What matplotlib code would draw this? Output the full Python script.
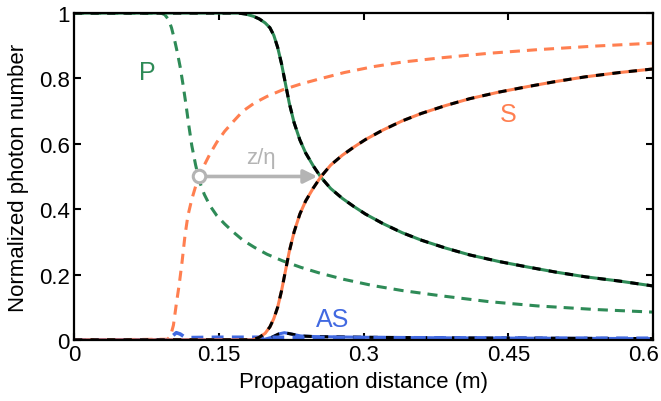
import numpy as np
import matplotlib.pyplot as plt
from matplotlib import transforms

plt.rcParams['font.family'] = ['Liberation Sans', 'DejaVu Sans']

# cores das curvas
verde = '#2e8b57'
laranja = '#ff7f50'
azul = '#4169e1'
cinza = '#b4b4b4'

# Bomba (P) - curva cheia
xp = [0, 0.17, 0.178, 0.186, 0.192, 0.198, 0.203, 0.207, 0.211, 0.215, 0.219, 0.223,
      0.228, 0.234, 0.240, 0.248, 0.256, 0.266, 0.278, 0.290, 0.302, 0.32, 0.34, 0.36,
      0.385, 0.41, 0.44, 0.47, 0.50, 0.53, 0.565, 0.60]
yp = [1, 1, 0.997, 0.99, 0.982, 0.97, 0.955, 0.932, 0.895, 0.845, 0.785, 0.725,
      0.665, 0.612, 0.572, 0.532, 0.497, 0.463, 0.433, 0.408, 0.385, 0.356, 0.328, 0.305,
      0.281, 0.26, 0.24, 0.223, 0.207, 0.193, 0.18, 0.165]

# Stokes (S) - curva cheia
xs = [0, 0.185, 0.192, 0.198, 0.203, 0.207, 0.211, 0.215, 0.219, 0.223, 0.228, 0.234,
      0.240, 0.248, 0.256, 0.266, 0.278, 0.290, 0.302, 0.32, 0.34, 0.36, 0.385, 0.41,
      0.44, 0.47, 0.50, 0.53, 0.565, 0.60]
ys = [0, 0, 0.008, 0.02, 0.04, 0.065, 0.10, 0.15, 0.21, 0.27, 0.33, 0.385,
      0.425, 0.465, 0.50, 0.535, 0.565, 0.59, 0.613, 0.642, 0.67, 0.693, 0.717, 0.738,
      0.758, 0.775, 0.791, 0.805, 0.818, 0.829]

# Bomba (P) - curva tracejada
xp2 = [0, 0.09, 0.094, 0.098, 0.101, 0.104, 0.107, 0.110, 0.113, 0.116, 0.119, 0.122,
       0.126, 0.130, 0.135, 0.141, 0.148, 0.156, 0.165, 0.175, 0.187, 0.20, 0.216, 0.235,
       0.255, 0.28, 0.31, 0.34, 0.38, 0.43, 0.48, 0.54, 0.60]
yp2 = [1, 1, 0.995, 0.98, 0.955, 0.92, 0.88, 0.835, 0.78, 0.72, 0.655, 0.595,
       0.535, 0.485, 0.445, 0.41, 0.38, 0.355, 0.33, 0.305, 0.283, 0.262, 0.242, 0.222,
       0.204, 0.185, 0.166, 0.151, 0.135, 0.117, 0.104, 0.093, 0.085]

# Stokes (S) - curva tracejada
xs2 = [0, 0.097, 0.100, 0.103, 0.106, 0.109, 0.112, 0.115, 0.118, 0.122, 0.126, 0.130,
       0.135, 0.141, 0.148, 0.156, 0.165, 0.175, 0.187, 0.20, 0.216, 0.235, 0.255, 0.28,
       0.31, 0.34, 0.38, 0.43, 0.48, 0.54, 0.60]
ys2 = [0, 0.002, 0.012, 0.045, 0.11, 0.17, 0.24, 0.32, 0.38, 0.43, 0.47, 0.50,
       0.535, 0.57, 0.605, 0.638, 0.668, 0.70, 0.725, 0.745, 0.765, 0.783, 0.799, 0.818,
       0.836, 0.85, 0.863, 0.877, 0.888, 0.899, 0.908]

# Anti-Stokes (AS)
xa = [0, 0.195, 0.205, 0.212, 0.218, 0.225, 0.235, 0.25, 0.3, 0.4, 0.5, 0.6]
ya = [0, 0, 0.008, 0.018, 0.022, 0.018, 0.012, 0.01, 0.008, 0.006, 0.005, 0.004]
xa2 = [0, 0.098, 0.102, 0.106, 0.110, 0.114, 0.12, 0.15, 0.2, 0.3, 0.4, 0.5, 0.6]
ya2 = [0, 0, 0.012, 0.022, 0.018, 0.01, 0.007, 0.008, 0.008, 0.007, 0.006, 0.005, 0.005]

# seta z/eta
z_ini, z_fim, z_y = 0.130, 0.252, 0.5

fig = plt.figure(figsize=(6.61, 4.02), dpi=100)
ax = fig.add_axes([0.112, 0.152, 0.876, 0.813])

lw = 2.2
tr = (3.3, 2.3)   # tracejado colorido
pr = (2.7, 2.7)   # tracejado preto
ax.plot(xp2, yp2, color=verde, lw=lw, dashes=tr)
ax.plot(xs2, ys2, color=laranja, lw=lw, dashes=tr)

ax.plot(xa, ya, color=azul, lw=lw)
ax.plot(xa, ya, color='black', lw=lw, dashes=pr)
ax.plot(xa2, ya2, color=azul, lw=2.6, dashes=tr)

ax.plot(xp, yp, color=verde, lw=lw)
ax.plot(xp, yp, color='black', lw=lw, dashes=pr)
ax.plot(xs, ys, color=laranja, lw=lw)
ax.plot(xs, ys, color='black', lw=lw, dashes=pr)

ax.annotate('', xy=(z_fim, z_y), xytext=(z_ini, z_y),
            arrowprops=dict(arrowstyle='-|>', color=cinza, lw=2.6,
                            mutation_scale=20, shrinkA=0, shrinkB=0))
ax.plot([z_ini], [z_y], 'o', ms=9, mfc='white', mec=cinza, mew=2.2, zorder=5)
ax.text(0.194, 0.557, 'z/η', color=cinza, fontsize=16, ha='center', va='center')

ax.text(0.076, 0.82, 'P', color=verde, fontsize=18, ha='center', va='center')
ax.text(0.45, 0.69, 'S', color=laranja, fontsize=18, ha='center', va='center')
ax.text(0.268, 0.065, 'AS', color=azul, fontsize=18, ha='center', va='center')

ax.set_xlim(0, 0.6)
ax.set_ylim(0, 1)
ax.set_xticks([0, 0.15, 0.3, 0.45, 0.6])
ax.set_xticklabels(['0', '0.15', '0.3', '0.45', '0.6'])
ax.set_yticks([0, 0.2, 0.4, 0.6, 0.8, 1])
ax.set_yticklabels(['0', '0.2', '0.4', '0.6', '0.8', '1'])
ax.tick_params(direction='in', length=5, width=1.5, labelsize=16,
               top=True, right=True, pad=3)
for s in ax.spines.values():
    s.set_linewidth(1.6)

# desloca o ultimo rotulo do eixo x para caber na figura
ultimo = ax.get_xticklabels()[-1]
ultimo.set_transform(ultimo.get_transform() +
                     transforms.ScaledTranslation(-0.1, 0, fig.dpi_scale_trans))

ax.set_xlabel('Propagation distance (m)', fontsize=16, labelpad=4)
ax.set_ylabel('Normalized photon number', fontsize=16, labelpad=7)

fig.savefig('out.png', dpi=100)
